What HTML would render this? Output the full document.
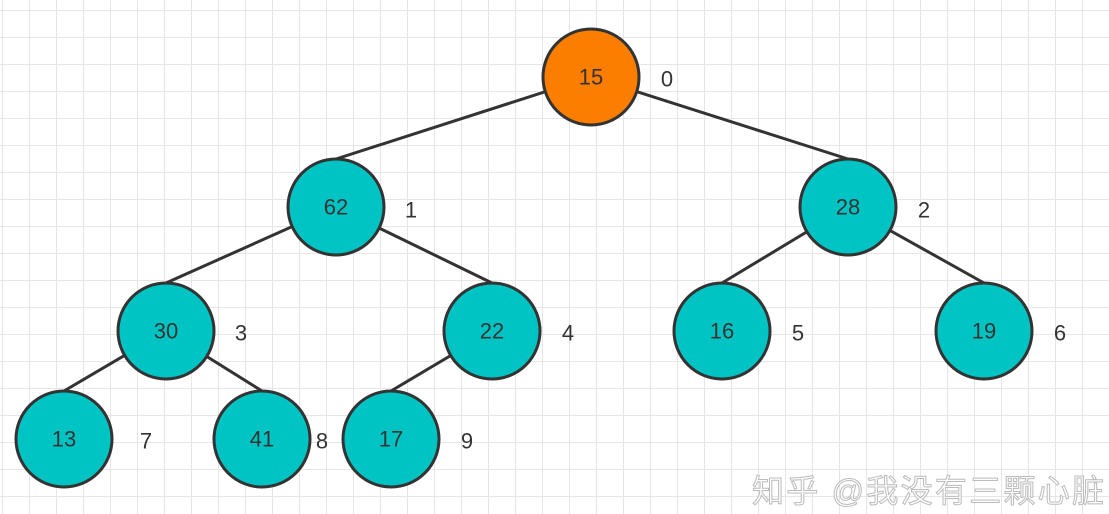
<!DOCTYPE html>
<html><head><meta charset="utf-8"><style>
body{margin:0;width:1109px;height:514px;overflow:hidden;background:#fff;
background-image:linear-gradient(#e6e6e6 1px,transparent 1px),linear-gradient(90deg,#e6e6e6 1px,transparent 1px);
background-size:27px 27px;background-position:-1px 10px, 2px 0;}
svg{position:absolute;left:0;top:0}
</style></head><body>
<svg width="1109" height="514" font-family="Liberation Sans, sans-serif">
<g stroke="#333" stroke-width="3">
<line x1="591" y1="77" x2="336" y2="159"/><line x1="591" y1="77" x2="848" y2="159"/>
<line x1="336" y1="207" x2="166" y2="283"/><line x1="336" y1="207" x2="492" y2="283"/>
<line x1="848" y1="207" x2="722" y2="283"/><line x1="848" y1="207" x2="984" y2="283"/>
<line x1="166" y1="331" x2="64" y2="391"/><line x1="166" y1="331" x2="262" y2="391"/>
<line x1="492" y1="331" x2="391" y2="391"/>
</g>
<g stroke="#333" stroke-width="3" fill="#00c4c4">
<circle cx="591" cy="77" r="48" fill="#fb7e00"/>
<circle cx="336" cy="207" r="48"/><circle cx="848" cy="207" r="48"/>
<circle cx="166" cy="331" r="48"/><circle cx="492" cy="331" r="48"/>
<circle cx="722" cy="331" r="48"/><circle cx="984" cy="331" r="48"/>
<circle cx="64" cy="439" r="48"/><circle cx="262" cy="439" r="48"/><circle cx="391" cy="439" r="48"/>
</g>
<g font-size="22" fill="#333" text-anchor="middle" dominant-baseline="central">
<text x="591" y="77">15</text><text x="336" y="207">62</text><text x="848" y="207">28</text>
<text x="166" y="331">30</text><text x="492" y="331">22</text><text x="722" y="331">16</text>
<text x="984" y="331">19</text><text x="64" y="439">13</text><text x="262" y="439">41</text><text x="391" y="439">17</text>
<text x="667" y="79">0</text><text x="411" y="210">1</text><text x="924" y="210">2</text>
<text x="241" y="333">3</text><text x="568" y="333">4</text><text x="798" y="333">5</text>
<text x="1060" y="333">6</text><text x="146" y="441">7</text><text x="322" y="441">8</text><text x="467" y="441">9</text>
</g>
<text x="752" y="502" font-size="32" textLength="352" fill="#fff" stroke="#bbb" stroke-width="1" font-family="Liberation Sans, Noto Sans CJK SC, sans-serif">知乎 @我没有三颗心脏</text>
</svg>
</body></html>
